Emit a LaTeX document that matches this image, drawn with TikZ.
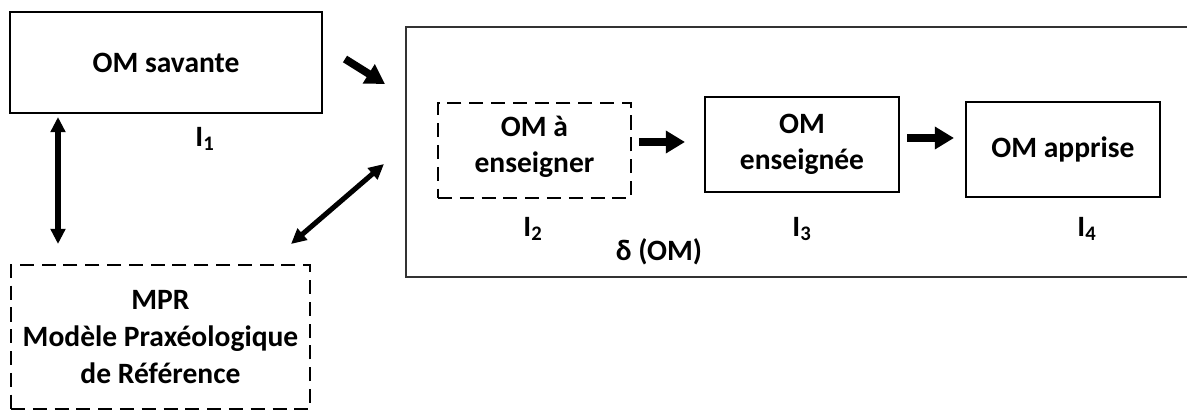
\documentclass[tikz,border=0pt]{standalone}
\usepackage{fontspec}
\setmainfont{Carlito}
\usetikzlibrary{arrows.meta, positioning}
\tikzset{
    %Define standard arrow tips
    bigtip/.tip={Triangle[length=0.48cm, width=0.54cm]},
    smalltip/.tip={Triangle[length=0.38cm, width=0.36cm]},
}

\begin{document}
\begin{tikzpicture}[x=0.025cm, y=-0.025cm]
	\tikzset{
	  om/.style={draw, fill=white,
	             shape=rectangle,
	             line width=1.4pt,
	             align=center,
	             font=\fontsize{21}{26}\selectfont\bfseries},
	  omdash/.style={om, line width=1.2pt, dash pattern=on 10pt off 5.5pt},
	  lbl/.style={font=\fontsize{21}{26}\selectfont\bfseries},
	  fatarrow/.style={-bigtip, line width=5.5pt},
	  twoway/.style={smalltip-smalltip, line width=3.6pt}
	}

	\useasboundingbox (0,0) rectangle (1187,412);

	\node [draw=black!80, line width=1.5pt, minimum width=20.6cm, minimum height=6.25cm] (delta) at (818,152) {};
	\node [om, minimum width=7.8cm, minimum height=2.525cm] (savante) at (166,62.5) {OM savante};
	\node [omdash, minimum width=7.475cm, minimum height=3.6cm] (mpr) at (160.5,337) {MPR\\Modèle Praxéologique\\de Référence};
	\node [omdash, minimum width=4.825cm, minimum height=2.375cm, text depth=0.3cm] (enseigner) at (534.5,150.5) {OM à\\enseigner};
	\node [om, minimum width=4.85cm, minimum height=2.375cm] (enseignee) at (802,144.5) {OM\\enseignée};
	\node [om, minimum width=4.85cm, minimum height=2.375cm] (apprise) at (1063,149.5) {OM apprise};

	\node[lbl] (i1) at (205,139) {I\textsubscript{1}};
	\node[lbl] (i2) at (533,229) {I\textsubscript{2}};
	\node[lbl] (i3) at (802,229) {I\textsubscript{3}};
	\node[lbl] (i4) at (1087,229) {I\textsubscript{4}};
	\node[lbl] (deltaom) at (659,252) {δ (OM)};

	% arrow ends
	\coordinate (savout) at (345,59);
	\coordinate (deltain) at (385,84);
	\coordinate (savdown) at (58,117);
	\coordinate (mprup) at (58,244);
	\coordinate (mprout) at (291,244);
	\coordinate (deltaout) at (384,164);
	\coordinate (ensout) at (639,142);
	\coordinate (enseein) at (685,142);
	\coordinate (enseeout) at (907,138);
	\coordinate (appin) at (954,138);

	\path (savout) edge[fatarrow] (deltain)
	      (ensout) edge[fatarrow] (enseein)
	      (enseeout) edge[fatarrow] (appin);
	\path (savdown) edge[twoway] (mprup)
	      (mprout) edge[twoway] (deltaout);

\end{tikzpicture}
\end{document}
